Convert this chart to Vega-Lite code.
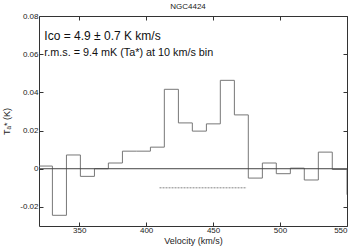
{
  "$schema": "https://vega.github.io/schema/vega-lite/v6.json",
  "width": 308,
  "height": 210,
  "autosize": "none",
  "padding": {"left": 39, "top": 16, "right": 8, "bottom": 23},
  "background": "white",
  "config": {
    "font": "Liberation Sans",
    "view": {"stroke": null},
    "axis": {"grid": false, "domainColor": "#333333", "domainWidth": 1, "tickColor": "#333333", "labelColor": "#222222", "titleColor": "#222222", "labelFont": "Liberation Sans", "titleFont": "Liberation Sans", "labelFontSize": 8, "titleFontSize": 9, "titleFontWeight": "normal"}
  },
  "title": {"text": "NGC4424", "fontSize": 8, "fontWeight": "normal", "font": "Liberation Sans", "color": "#222222", "offset": 1, "dx": -5},
  "datasets": {
    "spec": [
      {"v": 319.6, "t": 0.0014},
      {"v": 330.0, "t": -0.0244},
      {"v": 340.5, "t": 0.0072},
      {"v": 350.9, "t": -0.004},
      {"v": 361.4, "t": 0.0},
      {"v": 371.8, "t": 0.003},
      {"v": 382.3, "t": 0.0092},
      {"v": 392.7, "t": 0.0092},
      {"v": 403.2, "t": 0.0113},
      {"v": 413.6, "t": 0.0416},
      {"v": 424.1, "t": 0.024},
      {"v": 434.5, "t": 0.0197},
      {"v": 445.0, "t": 0.0235},
      {"v": 455.4, "t": 0.0463},
      {"v": 465.9, "t": 0.0282},
      {"v": 476.3, "t": -0.0049},
      {"v": 486.8, "t": 0.003},
      {"v": 497.2, "t": -0.0026},
      {"v": 507.7, "t": 0.0003},
      {"v": 518.1, "t": -0.0059},
      {"v": 528.6, "t": 0.0087},
      {"v": 539.0, "t": -0.0004},
      {"v": 550.0, "t": -0.0136}
    ]
  },
  "resolve": {"axis": {"x": "independent", "y": "independent"}},
  "layer": [
    {
      "data": {"name": "spec"},
      "mark": {"type": "line", "interpolate": "step-after", "color": "#777777", "strokeWidth": 1, "clip": true},
      "encoding": {
        "x": {"field": "v", "type": "quantitative", "scale": {"domain": [320, 550], "nice": false, "zero": false},
          "axis": {"orient": "bottom", "values": [350, 400, 450, 500, 550], "tickSize": -4, "labelPadding": 4, "title": "Velocity (km/s)", "titlePadding": 2}},
        "y": {"field": "t", "type": "quantitative", "scale": {"domain": [-0.03, 0.08], "nice": false, "zero": false},
          "axis": {"orient": "left", "values": [-0.02, 0, 0.02, 0.04, 0.06, 0.08], "tickSize": -4, "labelPadding": 5, "labelExpr": "toString(round(datum.value*100)/100)", "title": "Tₐ* (K)", "titlePadding": 8}}
      }
    },
    {
      "data": {"values": [{"y": 0}]},
      "mark": {"type": "rule", "color": "#444444", "strokeWidth": 1},
      "encoding": {"y": {"field": "y", "type": "quantitative", "axis": null}}
    },
    {
      "data": {"values": [{"x": 410, "x2": 475, "y": -0.01}]},
      "mark": {"type": "rule", "color": "#666666", "strokeWidth": 0.8, "strokeDash": [2, 1]},
      "encoding": {
        "x": {"field": "x", "type": "quantitative", "axis": {"orient": "top", "values": [350, 400, 450, 500, 550], "tickSize": -4, "labels": false, "title": null}},
        "x2": {"field": "x2"},
        "y": {"field": "y", "type": "quantitative", "axis": {"orient": "right", "values": [-0.02, 0, 0.02, 0.04, 0.06, 0.08], "tickSize": -4, "labels": false, "title": null}}
      }
    },
    {
      "data": {"values": [
        {"x": 324, "y": 0.0695, "label": "Iᴄᴏ = 4.9 ± 0.7 K km/s", "fs": 12},
        {"x": 324, "y": 0.0608, "label": "r.m.s. = 9.4 mK (Ta*) at 10 km/s bin", "fs": 10.8}
      ]},
      "mark": {"type": "text", "align": "left", "baseline": "middle", "color": "#111111", "font": "Liberation Sans"},
      "encoding": {
        "x": {"field": "x", "type": "quantitative", "axis": null},
        "y": {"field": "y", "type": "quantitative", "axis": null},
        "size": {"field": "fs", "type": "quantitative", "scale": null, "legend": null},
        "text": {"field": "label"}
      }
    }
  ]
}
